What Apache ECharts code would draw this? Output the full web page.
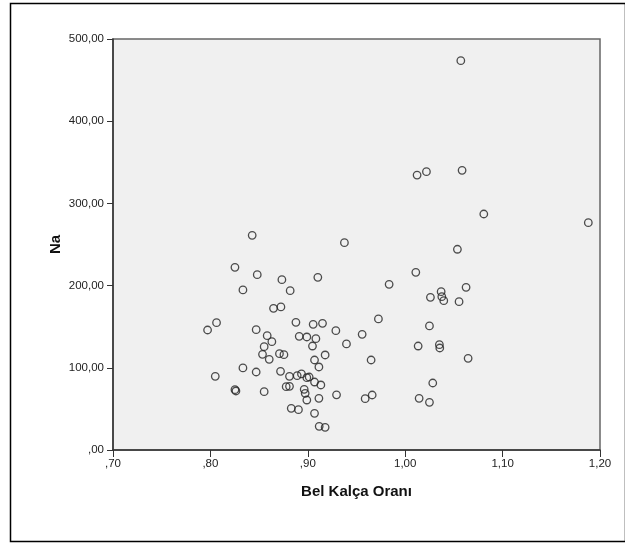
<!DOCTYPE html>
<html>
<head>
<meta charset="utf-8">
<script src="https://cdn.jsdelivr.net/npm/echarts@6/dist/echarts.min.js"></script>
<style>
  html, body { margin: 0; padding: 0; background: #fff; }
  #chart { width: 625px; height: 543px; }
</style>
</head>
<body>
<div id="chart"></div>
<script>
// Bel Kalça Oranı (x) vs Na (y)
var belKalca = [
    0.8429, 0.8252, 0.8481, 0.8734, 0.9103, 0.8334, 0.8819, 0.8648, 0.8724, 0.8063,
    0.7971, 0.8470, 0.8878, 0.9055, 0.9151, 0.9288, 0.8583, 0.8631, 0.8912, 0.8990,
    0.9083, 0.9048, 0.8552, 0.8535, 0.8709, 0.8755, 0.8604, 0.9178, 0.9069, 0.9114,
    0.8334, 0.8050, 0.8470, 0.8720, 0.8812, 0.8891, 0.8935, 0.8990, 0.9014, 0.9069,
    0.9134, 0.8778, 0.8812, 0.8252, 0.8262, 0.8552, 0.8963, 0.8973, 0.8990, 0.9114,
    0.8830, 0.8904, 0.9069, 0.9117, 0.9178,
    0.9376, 1.0536, 1.0109, 0.9835, 1.0625, 1.0369, 1.0376, 1.0259, 1.0396, 1.0553,
    0.9725, 1.0249, 0.9558, 0.9397, 1.0133, 1.0351, 1.0355, 1.0646, 0.9650, 1.0283,
    0.9295, 0.9589, 0.9661, 1.0143, 1.0249,
    1.0571, 1.0122, 1.0218, 1.0584, 1.0807, 1.1880
];
var na = [
    261.2, 222.2, 213.3, 207.2, 210.1, 194.7, 193.8, 172.4, 174.0, 154.9,
    146.0, 146.4, 155.3, 152.9, 154.1, 145.2, 139.1, 131.8, 138.3, 137.5,
    135.4, 126.5, 125.7, 116.4, 117.2, 116.0, 110.3, 115.6, 109.5, 101.0,
    99.8, 89.6, 94.9, 95.7, 89.6, 90.4, 92.5, 88.0, 88.8, 82.7,
    79.1, 77.0, 77.5, 73.4, 71.8, 70.9, 73.8, 69.0, 60.8, 62.9,
    50.7, 49.0, 44.6, 28.8, 27.6,
    252.2, 244.2, 216.2, 201.6, 197.9, 192.6, 186.5, 185.7, 181.7, 180.4,
    159.4, 150.9, 140.7, 129.0, 126.5, 128.1, 124.1, 111.5, 109.5, 81.5,
    67.1, 62.4, 66.9, 62.9, 58.0,
    473.6, 334.5, 338.6, 340.2, 287.1, 276.5
];

var points = [];
for (var i = 0; i < belKalca.length; i++) {
    points.push([belKalca[i], na[i]]);
}

function trNum(v) {
    var s = v.toFixed(2).replace('.', ',');
    if (s.indexOf('0,') === 0) s = s.substring(1);
    return s;
}

var chart = echarts.init(document.getElementById('chart'));
var option = {
    animation: false,
    textStyle: { fontFamily: 'Liberation Sans, Arial, sans-serif' },
    graphic: [{
        type: 'rect',
        left: 8, top: 1,
        shape: { width: 615, height: 538 },
        style: { fill: 'none', stroke: '#000', lineWidth: 1.5 },
        silent: true
    }],
    grid: {
        left: 113,
        right: 25,
        top: 39,
        bottom: 93,
        show: true,
        backgroundColor: '#f0f0f0',
        borderColor: '#666',
        borderWidth: 1.5
    },
    xAxis: {
        type: 'value',
        min: 0.7,
        max: 1.2,
        interval: 0.1,
        name: 'Bel Kalça Oranı',
        nameLocation: 'middle',
        nameGap: 34,
        nameMoveOverlap: false,
        nameTextStyle: { fontSize: 15, fontWeight: 'bold', color: '#111' },
        axisLine: { show: true, lineStyle: { color: '#333', width: 1.5 } },
        axisTick: { show: true, length: 7, lineStyle: { color: '#333' } },
        axisLabel: { fontSize: 11.5, color: '#222', margin: 8, formatter: trNum },
        splitLine: { show: false }
    },
    yAxis: {
        type: 'value',
        min: 0,
        max: 500,
        interval: 100,
        name: 'Na',
        nameLocation: 'middle',
        nameGap: 50,
        nameMoveOverlap: false,
        nameRotate: 90,
        nameTextStyle: { fontSize: 15, fontWeight: 'bold', color: '#111' },
        axisLine: { show: true, lineStyle: { color: '#333', width: 1.5 } },
        axisTick: { show: true, length: 6, lineStyle: { color: '#333' } },
        axisLabel: { fontSize: 11.5, color: '#222', margin: 9, formatter: trNum },
        splitLine: { show: false }
    },
    series: [{
        type: 'scatter',
        data: points,
        symbol: 'circle',
        symbolSize: 7.5,
        itemStyle: {
            color: 'rgba(0,0,0,0)',
            borderColor: '#222',
            borderWidth: 1.3
        }
    }]
};
chart.setOption(option);
</script>
</body>
</html>
